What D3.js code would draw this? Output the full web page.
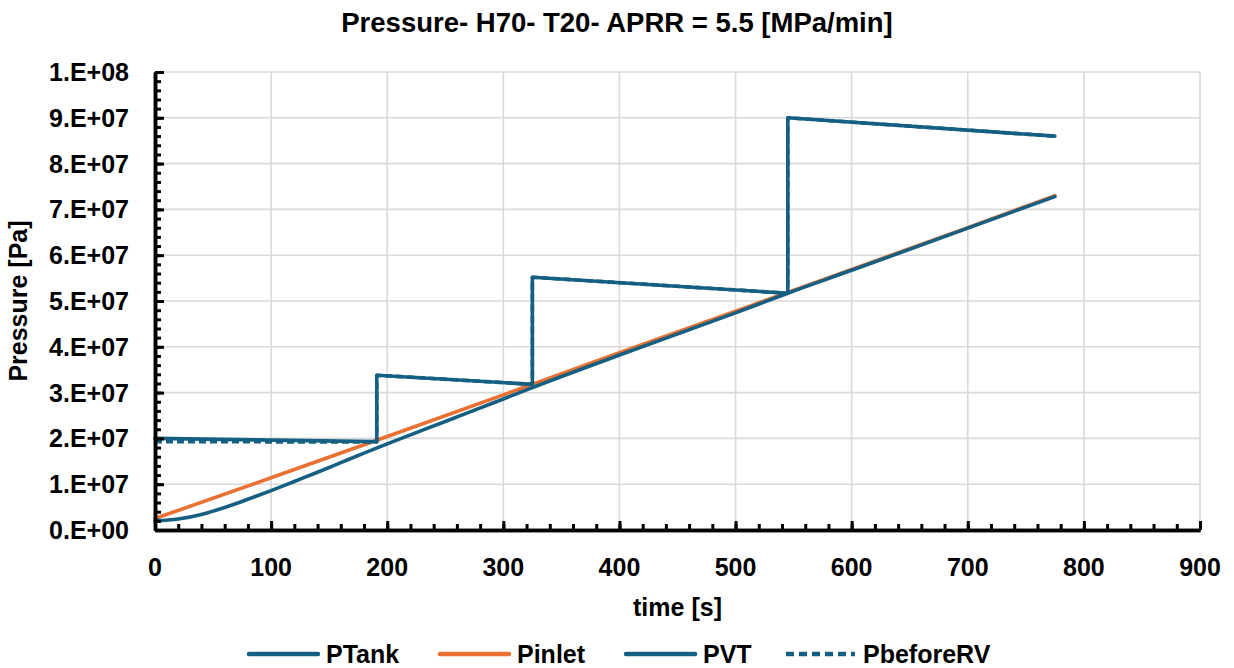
<!DOCTYPE html>
<html><head><meta charset="utf-8">
<script src="https://cdn.jsdelivr.net/npm/d3@7"></script>
<style>
html,body{margin:0;padding:0;background:#fff;}
text{font-family:"Liberation Sans",Arial,sans-serif;font-weight:bold;fill:#000;}
</style></head>
<body><svg id="c" width="1234" height="668"></svg>
<script>
// ---- data ----
const title = "Pressure- H70- T20- APRR = 5.5 [MPa/min]";
const xLabel = "time [s]";
const yLabel = "Pressure [Pa]";
const seriesNames = ["PTank", "Pinlet", "PVT", "PbeforeRV"];
const xTicks = [0, 100, 200, 300, 400, 500, 600, 700, 800, 900];
const yTicks = [0, 1e7, 2e7, 3e7, 4e7, 5e7, 6e7, 7e7, 8e7, 9e7, 1e8];
const yTickLabels = ["0.E+00","1.E+07","2.E+07","3.E+07","4.E+07","5.E+07","6.E+07","7.E+07","8.E+07","9.E+07","1.E+08"];

const pTankT = [0, 20, 40, 60, 80, 100, 120, 140, 160, 180, 200, 250, 300, 325, 400, 500, 545, 600, 700, 775];
const pTankV = [2.0e6, 2.4e6, 3.4e6, 4.9e6, 6.7e6, 8.6e6, 10.6e6, 12.6e6, 14.7e6, 16.8e6, 18.8e6, 23.7e6, 28.6e6, 31.1e6, 38.2e6, 47.4e6, 51.7e6, 56.7e6, 65.9e6, 72.8e6];

const pInletT = [0, 100, 200, 300, 400, 500, 600, 700, 775];
const pInletV = [2.5e6, 11.4e6, 20.4e6, 29.5e6, 38.7e6, 47.8e6, 56.9e6, 66.0e6, 73.0e6];

const pVTT = [0, 191, 191, 325, 325, 545, 545, 775];
const pVTV = [2.0e7, 1.93e7, 3.38e7, 3.18e7, 5.52e7, 5.17e7, 9.0e7, 8.6e7];

const pBeforeT = [0, 191, 191, 325, 325, 545, 545, 775];
const pBeforeV = [1.93e7, 1.92e7, 3.38e7, 3.18e7, 5.52e7, 5.17e7, 9.0e7, 8.6e7];

const colors = {PTank:"#156082", Pinlet:"#E97132", PVT:"#156082", PbeforeRV:"#156082"};

// ---- layout ----
const svg = d3.select("#c");
const L = 155, R = 1200, T = 72, B = 530;
const x = d3.scaleLinear().domain([0, 900]).range([L, R]);
const y = d3.scaleLinear().domain([0, 1e8]).range([B, T]);

// gridlines
svg.append("g").selectAll("line").data(xTicks.slice(1)).join("line")
  .attr("x1", d => x(d)).attr("x2", d => x(d)).attr("y1", T).attr("y2", B)
  .attr("stroke", "#d9d9d9").attr("stroke-width", 1.6);
svg.append("g").selectAll("line").data(yTicks.slice(1)).join("line")
  .attr("x1", L).attr("x2", R).attr("y1", d => y(d)).attr("y2", d => y(d))
  .attr("stroke", "#d9d9d9").attr("stroke-width", 1.6);

// series
const zip = (ts, vs) => ts.map((t, i) => [t, vs[i]]);
const lineStraight = d3.line().x(d => x(d[0])).y(d => y(d[1]));
const lineSmooth = d3.line().x(d => x(d[0])).y(d => y(d[1])).curve(d3.curveMonotoneX);
const drawSeries = (pts, color, dash, gen) => {
  svg.append("path").datum(pts).attr("d", gen).attr("fill", "none")
    .attr("stroke", color).attr("stroke-width", 3.6)
    .attr("stroke-linejoin", "round").attr("stroke-linecap", dash ? "butt" : "round")
    .attr("stroke-dasharray", dash ? "7,4" : null);
};
drawSeries(zip(pInletT, pInletV), colors.Pinlet, false, lineStraight);
drawSeries(zip(pTankT, pTankV), colors.PTank, false, lineSmooth);
drawSeries(zip(pVTT, pVTV), colors.PVT, false, lineStraight);
drawSeries(zip(pBeforeT, pBeforeV), colors.PbeforeRV, true, lineStraight);

// axes
const xAxis = d3.axisBottom(x).tickValues(xTicks).tickSize(-9).tickSizeOuter(0).tickFormat("");
const xMinor = d3.axisBottom(x).tickValues(d3.range(0, 901, 20)).tickSize(-6).tickSizeOuter(0).tickFormat("");
const yAxis = d3.axisLeft(y).tickValues(yTicks).tickSize(-9).tickSizeOuter(0).tickFormat("");
const yMinor = d3.axisLeft(y).tickValues(d3.range(0, 1e8 + 1, 2e6)).tickSize(-6).tickSizeOuter(0).tickFormat("");
[xMinor, xAxis].forEach(a => {
  const g = svg.append("g").attr("transform", `translate(0,${B})`).call(a);
  g.selectAll("line").attr("stroke", "#000").attr("stroke-width", 3);
  g.select(".domain").attr("stroke", "#000").attr("stroke-width", 3.5);
});
[yMinor, yAxis].forEach(a => {
  const g = svg.append("g").attr("transform", `translate(${L},0)`).call(a);
  g.selectAll("line").attr("stroke", "#000").attr("stroke-width", 3);
  g.select(".domain").attr("stroke", "#000").attr("stroke-width", 3.5);
});

// tick labels
svg.append("g").selectAll("text").data(xTicks).join("text")
  .attr("x", d => x(d)).attr("y", 576).attr("text-anchor", "middle")
  .attr("font-size", 25).text(d => d);
svg.append("g").selectAll("text").data(yTicks).join("text")
  .attr("x", 129).attr("y", d => y(d) + 9).attr("text-anchor", "end")
  .attr("font-size", 25).text((d, i) => yTickLabels[i]);

// titles
svg.append("text").attr("x", 617).attr("y", 32).attr("text-anchor", "middle")
  .attr("font-size", 27.5).text(title);
svg.append("text").attr("x", (L + R) / 2).attr("y", 616).attr("text-anchor", "middle")
  .attr("font-size", 25).text(xLabel);
svg.append("text").attr("transform", `translate(27,${(T + B) / 2}) rotate(-90)`)
  .attr("text-anchor", "middle").attr("font-size", 25).text(yLabel);

// legend
const legX = [249, 440, 626, 786];
const lg = svg.append("g");
seriesNames.forEach((n, i) => {
  lg.append("line").attr("x1", legX[i]).attr("x2", legX[i] + 69).attr("y1", 654).attr("y2", 654)
    .attr("stroke", colors[n]).attr("stroke-width", 4.5)
    .attr("stroke-linecap", n === "PbeforeRV" ? "butt" : "round")
    .attr("stroke-dasharray", n === "PbeforeRV" ? "8,5" : null);
  lg.append("text").attr("x", legX[i] + 77).attr("y", 663).attr("font-size", 25).text(n);
});
</script></body></html>
